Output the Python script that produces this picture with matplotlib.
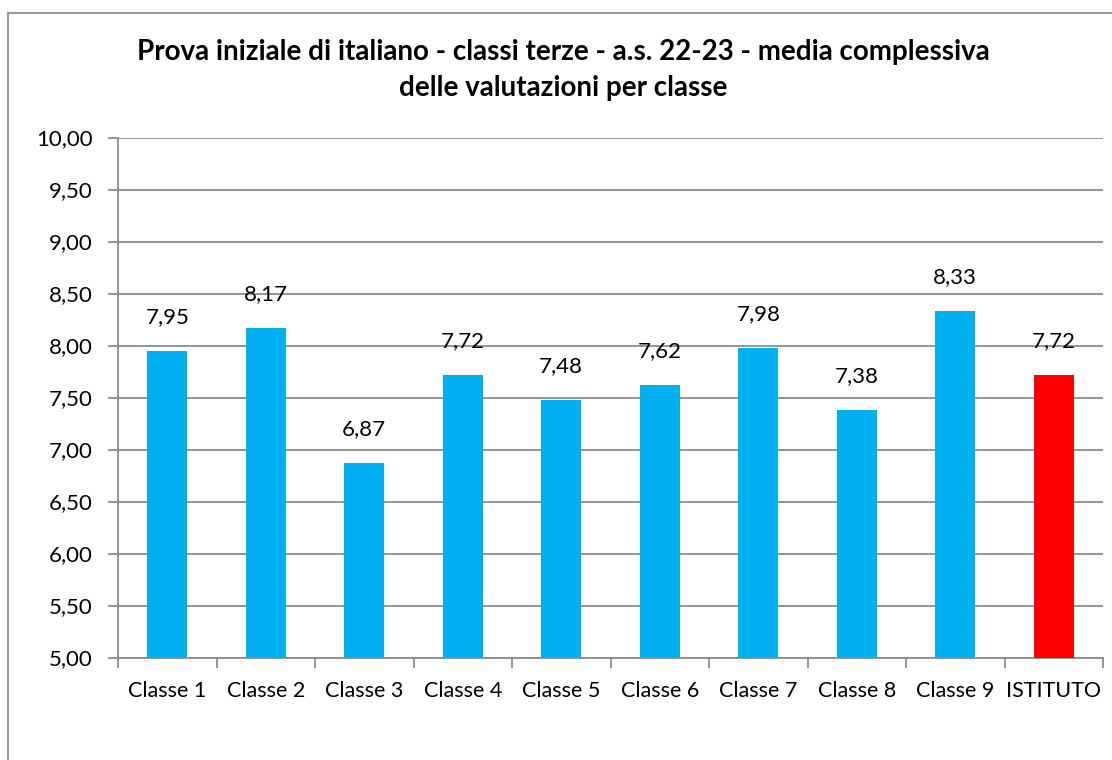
import matplotlib
matplotlib.use("Agg")
import matplotlib.pyplot as plt
from matplotlib.lines import Line2D
import numpy as np

categories = ["Classe 1", "Classe 2", "Classe 3", "Classe 4", "Classe 5",
              "Classe 6", "Classe 7", "Classe 8", "Classe 9", "ISTITUTO"]
values = [7.95, 8.17, 6.87, 7.72, 7.48, 7.62, 7.98, 7.38, 8.33, 7.72]
bar_colors = ["#00B0F0"] * 9 + ["#FF0000"]
title = "Prova iniziale di italiano - classi terze - a.s. 22-23 - media complessiva\ndelle valutazioni per classe"

plt.rcParams['font.family'] = ['Lato', 'DejaVu Sans']

fig = plt.figure(figsize=(11.12, 7.6), dpi=100)
ax = fig.add_axes([118/1112, 102.5/760, 985/1112, 520/760])

x = np.arange(len(categories))
bars = ax.bar(x, values, width=0.41, color=bar_colors, zorder=3)

ax.set_xlim(-0.5, len(categories) - 0.5)
ax.set_ylim(5, 10)
yt = np.arange(5, 10.01, 0.5)
ax.set_yticks(yt)
ax.set_yticklabels([f"{v:.2f}".replace(".", ",") for v in yt], fontsize=16)
ax.yaxis.grid(True, color="#8c8c8c", linewidth=1.3, zorder=0)
ax.tick_params(axis='y', length=7, width=1.3, color="#8c8c8c", pad=11)

ax.set_xticks(x)
ax.set_xticklabels(categories, fontsize=15.5)
ax.set_xticks(np.arange(-0.5, len(categories), 1.0), minor=True)
ax.tick_params(axis='x', which='major', length=0, pad=17)
ax.tick_params(axis='x', which='minor', length=7, width=1.3, color="#8c8c8c")

for s in ["top", "right"]:
    ax.spines[s].set_visible(False)
for s in ["left", "bottom"]:
    ax.spines[s].set_color("#8c8c8c")
    ax.spines[s].set_linewidth(1.3)

for xi, v in zip(x, values):
    ax.annotate(f"{v:.2f}".replace(".", ","), (xi, v), xytext=(0, 17),
                textcoords="offset points", ha="center", va="bottom", fontsize=16)

fig.text(563/1112, 1 - 70/760, title, ha="center", va="center",
         fontsize=20, fontweight="bold", linespacing=1.45)

# outer chart border (left and top visible)
fig.add_artist(Line2D([7.5/1112, 7.5/1112], [0, 1 - 12.5/760], color="#9a9a9a", linewidth=1.5, transform=fig.transFigure))
fig.add_artist(Line2D([7.5/1112, 1], [1 - 12.5/760, 1 - 12.5/760], color="#9a9a9a", linewidth=1.5, transform=fig.transFigure))

fig.savefig("out.png", dpi=100)
